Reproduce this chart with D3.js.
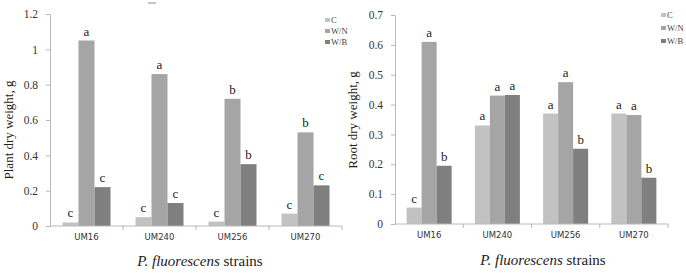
<!DOCTYPE html>
<html>
<head>
<meta charset="utf-8">
<script src="https://cdn.jsdelivr.net/npm/d3@7"></script>
<style>
  html, body { margin: 0; padding: 0; background: #fff; }
  svg { display: block; }
  .tick text { fill: #333; }
</style>
</head>
<body>
<svg id="chart" width="686" height="275"></svg>
<script>
// strains, series and values
const strains = ["UM16", "UM240", "UM256", "UM270"];
const series = ["C", "W/N", "W/B"];
const colors = ["#c2c2c2", "#a5a5a5", "#7f7f7f"];

const plantC  = [0.02, 0.05, 0.025, 0.07];
const plantWN = [1.05, 0.86, 0.72, 0.53];
const plantWB = [0.22, 0.13, 0.35, 0.23];
const plantLetters = [["c", "a", "c"], ["c", "a", "c"], ["c", "b", "b"], ["c", "b", "c"]];
const plantTicks = [0, 0.2, 0.4, 0.6, 0.8, 1, 1.2];

const rootC  = [0.055, 0.33, 0.37, 0.37];
const rootWN = [0.61, 0.43, 0.475, 0.365];
const rootWB = [0.195, 0.432, 0.252, 0.155];
const rootLetters = [["c", "a", "b"], ["a", "a", "a"], ["a", "a", "b"], ["a", "a", "b"]];
const rootTicks = [0, 0.1, 0.2, 0.3, 0.4, 0.5, 0.6, 0.7];

const svg = d3.select("#chart");
const SERIF = "'Liberation Serif', 'Times New Roman', serif";
const SANS = "'DejaVu Sans', Verdana, sans-serif";

// little dash artifact at the top of the left panel
svg.append("line").attr("x1", 148).attr("x2", 156).attr("y1", 3).attr("y2", 3)
  .attr("stroke", "#888").attr("stroke-width", 1);

function panel(o) {
  const x = d3.scaleBand().domain(strains).range([o.x0, o.x1]).padding(0);
  const y = d3.scaleLinear().domain([0, o.max]).range([o.y0, o.yTop]);
  const inner = d3.scaleBand().domain(series).range([0, o.groupW]);
  const rows = strains.map((s, i) => ({ strain: s, vals: o.vals.map(v => v[i]), letters: o.letters[i] }));

  const g = svg.append("g");

  // bars + significance letters
  const grp = g.selectAll("g.grp").data(rows).join("g")
    .attr("transform", d => `translate(${x(d.strain) + (x.bandwidth() - o.groupW) / 2},0)`);
  grp.selectAll("rect").data(d => d.vals.map((v, k) => ({ v, k, l: d.letters[k] }))).join("rect")
    .attr("x", d => inner(series[d.k])).attr("width", inner.bandwidth())
    .attr("y", d => y(d.v)).attr("height", d => y(0) - y(d.v))
    .attr("fill", d => colors[d.k]);
  grp.selectAll("text").data(d => d.vals.map((v, k) => ({ v, k, l: d.letters[k] }))).join("text")
    .attr("x", d => inner(series[d.k]) + inner.bandwidth() / 2)
    .attr("y", d => y(d.v) - 5)
    .attr("text-anchor", "middle").attr("font-family", SERIF).attr("font-size", 13).attr("fill", "#222")
    .text(d => d.l);

  // y axis
  const gy = g.append("g").attr("transform", `translate(${o.x0},0)`)
    .call(d3.axisLeft(y).tickValues(o.ticks).tickSize(4).tickSizeOuter(0).tickPadding(8)
      .tickFormat(d => String(+d.toFixed(1))));
  gy.select(".domain").attr("stroke", "#b8b8b8");
  gy.selectAll(".tick line").attr("stroke", "#b8b8b8");
  gy.selectAll(".tick text").attr("font-family", SERIF).attr("font-size", 11.5);

  // x axis, ticks on category boundaries
  const gx = g.append("g").attr("transform", `translate(0,${o.y0})`);
  gx.append("line").attr("x1", o.x0).attr("x2", o.x1).attr("stroke", "#b8b8b8");
  gx.selectAll("line.b").data(strains.slice(1).concat(["end"])).join("line").attr("class", "b")
    .attr("x1", d => d === "end" ? o.x1 : x(d)).attr("x2", d => d === "end" ? o.x1 : x(d))
    .attr("y1", 0).attr("y2", 4).attr("stroke", "#b8b8b8");
  gx.selectAll("text").data(strains).join("text")
    .attr("x", d => x(d) + x.bandwidth() / 2).attr("y", 14)
    .attr("text-anchor", "middle").attr("font-family", SANS).attr("font-size", 8.5).attr("fill", "#333")
    .text(d => d);

  // axis titles
  g.append("text").attr("transform", `translate(${o.ylabX},${o.ylabY}) rotate(-90)`)
    .attr("text-anchor", "middle").attr("font-family", SERIF).attr("font-size", 13).attr("fill", "#222")
    .text(o.ylab);
  const xt = g.append("text").attr("x", o.xlabX).attr("y", o.xlabY)
    .attr("text-anchor", "middle").attr("font-family", SERIF).attr("font-size", 15).attr("fill", "#222");
  xt.append("tspan").attr("font-family", SERIF).attr("font-style", "italic").text("P. fluorescens");
  xt.append("tspan").attr("font-family", SERIF).attr("font-style", "normal").text(" strains");

  // legend
  const lg = g.append("g").attr("transform", `translate(${o.legX},${o.legY})`);
  const li = lg.selectAll("g").data(series).join("g").attr("transform", (d, i) => `translate(0,${i * o.legStep})`);
  li.append("rect").attr("x", 0).attr("y", -2).attr("width", 5).attr("height", 4).attr("fill", (d, i) => colors[i]);
  li.append("text").attr("x", 6).attr("y", 0).attr("dy", "0.32em").attr("font-family", SERIF)
    .attr("font-size", 8.5).attr("fill", "#444").text(d => d);
}

panel({
  x0: 50, x1: 342, y0: 226, yTop: 14, max: 1.2, groupW: 48,
  vals: [plantC, plantWN, plantWB], letters: plantLetters, ticks: plantTicks,
  ylab: "Plant dry weight, g", ylabX: 13, ylabY: 130,
  xlabX: 200, xlabY: 266, legX: 325, legY: 20, legStep: 11
});

panel({
  x0: 395, x1: 668, y0: 224, yTop: 15, max: 0.7, groupW: 45,
  vals: [rootC, rootWN, rootWB], letters: rootLetters, ticks: rootTicks,
  ylab: "Root dry weight, g", ylabX: 357, ylabY: 120,
  xlabX: 543, xlabY: 265, legX: 661, legY: 15, legStep: 13
});
</script>
</body>
</html>
